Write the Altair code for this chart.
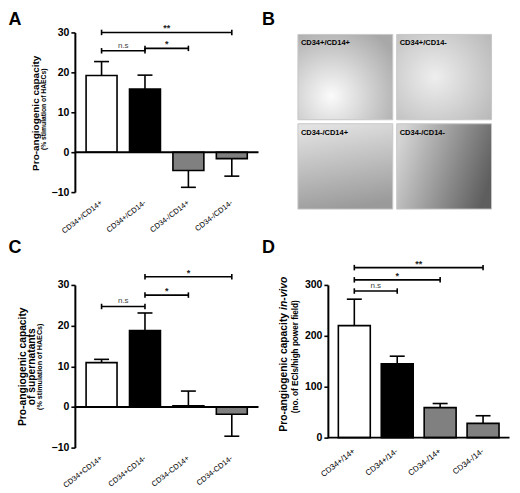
import altair as alt
import pandas as pd

FONT = "Liberation Sans"

# ---------------- Panel A ----------------
a_cats = ["CD34+/CD14+", "CD34+/CD14-", "CD34-/CD14+", "CD34-/CD14-"]
a_vals = [19.2, 15.8, -4.6, -1.6]
a_sem = [3.5, 3.5, 4.2, 4.4]
a_sig_from = ["CD34+/CD14+", "CD34+/CD14+", "CD34+/CD14-"]
a_sig_to = ["CD34-/CD14-", "CD34+/CD14-", "CD34-/CD14+"]
a_sig_y = [30, 25.4, 26]
a_sig_lbl = ["**", "n.s", "*"]
a_ticks = [-10, 0, 10, 20, 30]

# ---------------- Panel B ----------------
b_labels = ["CD34+/CD14+", "CD34+/CD14-", "CD34-/CD14+", "CD34-/CD14-"]
b_col = ["left", "right", "left", "right"]
b_row = ["top", "top", "bottom", "bottom"]

# ---------------- Panel C ----------------
c_cats = ["CD34+CD14+", "CD34+CD14-", "CD34-CD14+", "CD34-CD14-"]
c_vals = [10.9, 18.8, 0.3, -1.8]
c_sem = [0.8, 4.3, 3.6, 5.4]
c_sig_from = ["CD34+CD14+", "CD34+CD14-", "CD34+CD14-"]
c_sig_to = ["CD34+CD14-", "CD34-CD14+", "CD34-CD14-"]
c_sig_y = [24.7, 27.5, 32]
c_sig_lbl = ["n.s", "*", "*"]
c_ticks = [-10, 0, 10, 20, 30]

# ---------------- Panel D ----------------
d_cats = ["CD34+/14+", "CD34+/14-", "CD34-/14+", "CD34-/14-"]
d_vals = [220, 145, 59, 28]
d_sem = [52, 15, 8, 15]
d_sig_from = ["CD34+/14+", "CD34+/14+", "CD34+/14+"]
d_sig_to = ["CD34+/14-", "CD34-/14+", "CD34-/14-"]
d_sig_y = [288, 310, 334]
d_sig_lbl = ["n.s", "*", "**"]
d_ticks = [0, 100, 200, 300]


def text_layer(txt, x, y, size, weight="bold", angle=0, align="center",
               baseline="middle", style="normal", color="black"):
    return alt.Chart(pd.DataFrame({"t": [txt]})).mark_text(
        font=FONT, fontSize=size, fontWeight=weight, angle=angle, align=align,
        baseline=baseline, fontStyle=style, color=color
    ).encode(text="t:N", x=alt.value(x), y=alt.value(y))


def bar_panel(cats, vals, sem, sig_from, sig_to, sig_y, sig_lbl, ydom, yticks,
              fills, width, height, bar_w, label_size, label_gap, label_angle,
              extra_layers):
    n = len(cats)
    df = pd.DataFrame({"cat": cats, "i": list(range(n)), "v": vals, "sem": sem})
    sig = pd.DataFrame({
        "a": [cats.index(f) for f in sig_from],
        "b": [cats.index(t) for t in sig_to],
        "y": sig_y,
        "lbl": sig_lbl,
    })
    xs = alt.Scale(domain=[-0.5, n - 0.5], nice=False, zero=False)
    ys = alt.Scale(domain=ydom, nice=False, zero=False)
    yaxis = alt.Axis(values=yticks, title=None, grid=False, domainColor="black",
                     domainWidth=2, tickColor="black", tickWidth=1.6, tickSize=4,
                     labelFontSize=10.5, labelFontWeight="bold", labelFont=FONT,
                     labelColor="black", labelPadding=2, labelOverlap=False)

    def X(f):
        return alt.X(f, scale=xs, axis=None)

    def Y(f):
        return alt.Y(f, scale=ys, axis=yaxis)

    base = alt.Chart(df)
    bars = base.mark_bar(width=bar_w, stroke="black", strokeWidth=1.6,
                         orient="vertical").encode(
        x=X("i:Q"), y=Y("v:Q"), y2=alt.datum(0),
        fill=alt.Fill("cat:N", scale=alt.Scale(domain=cats, range=fills), legend=None),
    )
    # category labels, rising diagonally, ending under each bar
    xlab = alt.Chart(pd.DataFrame({"cat": cats, "i": list(range(n))})).mark_text(
        font=FONT, fontSize=label_size, angle=label_angle, align="right",
        baseline="middle", color="black").encode(
        x=X("i:Q"), y=alt.value(height + label_gap), text="cat:N")
    base_e = base.transform_calculate(
        end="datum.v >= 0 ? datum.v + datum.sem : datum.v - datum.sem")
    err = base_e.mark_rule(strokeWidth=1.6, color="black").encode(
        x=X("i:Q"), y=Y("v:Q"), y2="end:Q")
    cap = base_e.mark_point(shape="M-1,0L1,0", size=225, filled=False,
                            stroke="black", strokeWidth=1.6, opacity=1).encode(
        x=X("i:Q"), y=Y("end:Q"))
    zero = alt.Chart(pd.DataFrame({"z": [0]})).mark_rule(
        strokeWidth=2, color="black").encode(
        y=Y("z:Q"), x=alt.value(0), x2=alt.value(width))

    sbase = alt.Chart(sig)
    srule = sbase.mark_rule(strokeWidth=1.6, color="black").encode(
        x=X("a:Q"), x2="b:Q", y=Y("y:Q"))
    scap = sbase.transform_fold(["a", "b"], as_=["k", "xx"]).mark_point(
        shape="M0,-1L0,1", size=30, filled=False, stroke="black",
        strokeWidth=1.6, opacity=1).encode(x=X("xx:Q"), y=Y("y:Q"))
    smid = sbase.transform_calculate(mid="(datum.a + datum.b) / 2")
    stext_ns = smid.transform_filter(alt.datum.lbl == "n.s").mark_text(
        font=FONT, fontSize=8, baseline="alphabetic", dy=-3, color="#444444").encode(
        x=X("mid:Q"), y=Y("y:Q"), text="lbl:N")
    stext_st = smid.transform_filter(alt.datum.lbl != "n.s").mark_text(
        font=FONT, fontSize=9, fontWeight="bold", baseline="alphabetic", dy=-1,
        color="#222222").encode(x=X("mid:Q"), y=Y("y:Q"), text="lbl:N")

    layers = [bars, err, cap, zero, srule, scap, stext_ns, stext_st] + extra_layers + [xlab]
    return alt.layer(*layers).properties(width=width, height=height)


# ---- Panel A ----
WA, HA = 184, 160
A = bar_panel(
    a_cats, a_vals, a_sem, a_sig_from, a_sig_to, a_sig_y, a_sig_lbl,
    [-10, 30], a_ticks, ["white", "black", "#808080", "#808080"],
    WA, HA, 31, 7.5, 10, 322,
    [
        text_layer("A", -66.5, -21, 18, align="left", baseline="top"),
        text_layer("Pro-angiogenic capacity", -38.5, 81, 10, angle=270),
        text_layer("(% stimulation of HAECs)", -30.5, 77, 6.8, angle=270),
    ],
)

# ---- Panel C ----
WC, HC = 184, 163
C = bar_panel(
    c_cats, c_vals, c_sem, c_sig_from, c_sig_to, c_sig_y, c_sig_lbl,
    [-10, 30], c_ticks, ["white", "black", "#808080", "#808080"],
    WC, HC, 31, 7.5, 10, 322,
    [
        text_layer("C", -66.5, -46, 18, align="left", baseline="top"),
        text_layer("Pro-angiogenic capacity", -52, 82, 10.3, angle=270),
        text_layer("of supernatants", -43, 82, 10.3, angle=270),
        text_layer("(% stimulation of  HAECs)", -35, 82, 7.2, angle=270),
    ],
)

# ---- Panel D ----
WD, HD = 182, 153
D = bar_panel(
    d_cats, d_vals, d_sem, d_sig_from, d_sig_to, d_sig_y, d_sig_lbl,
    [0, 300], d_ticks, ["white", "black", "#6f6f6f", "#6f6f6f"],
    WD, HD, 32, 8, 13, 322,
    [
        text_layer("D", -66, -46, 18, align="left", baseline="top"),
        text_layer("Pro-angiogenic capacity", -44, 147, 10.3, angle=270,
                   align="left"),
        text_layer("in-vivo", -44, 25, 10.3, angle=270, align="left",
                   style="italic"),
        text_layer("(no. of ECls/high power field)", -32, 72, 8.2, angle=270),
    ],
)

# ---- Panel B ----
b_df = pd.DataFrame({"lbl": b_labels, "col": b_col, "row": b_row})
bx = alt.Scale(domain=["left", "right"], range=[-30, 164], paddingInner=0.04,
               paddingOuter=0)
by = alt.Scale(domain=["top", "bottom"], range=[2, 177], paddingInner=0.045,
               paddingOuter=0)


def grad_radial(c0, c1, cx, cy):
    return alt.Gradient(gradient="radial",
                        stops=[alt.GradientStop(color=c0, offset=0),
                               alt.GradientStop(color=c1, offset=1)],
                        x1=cx, y1=cy, r1=0, x2=cx, y2=cy, r2=0.8)


def grad_linear(c0, c1, x1, y1, x2, y2):
    return alt.Gradient(gradient="linear",
                        stops=[alt.GradientStop(color=c0, offset=0),
                               alt.GradientStop(color=c1, offset=1)],
                        x1=x1, y1=y1, x2=x2, y2=y2)


fills_b = [
    grad_radial("#fbfbfb", "#a8a8a8", 0.35, 0.7),
    grad_radial("#eeeeee", "#b4b4b4", 0.4, 0.5),
    grad_linear("#e2e2e2", "#9a9a9a", 0.3, 0, 0.5, 1),
    grad_linear("#d4d4d4", "#5e5e5e", 0, 0.3, 1, 0.6),
]
b_layers = []
for lbl, fl in zip(b_labels, fills_b):
    b_layers.append(
        alt.Chart(b_df).transform_filter(alt.datum.lbl == lbl).mark_rect(
            fill=fl, stroke="#c8c8c8", strokeWidth=1).encode(
            x=alt.X("col:N", scale=bx, axis=None),
            y=alt.Y("row:N", scale=by, axis=None)))
b_text = alt.Chart(b_df).mark_text(
    font=FONT, fontSize=7.5, fontWeight="bold", align="left", baseline="top",
    dx=3, dy=5, color="black").encode(
    x=alt.X("col:N", scale=bx, axis=None, bandPosition=0),
    y=alt.Y("row:N", scale=by, axis=None, bandPosition=0),
    text="lbl:N")
B = alt.layer(*b_layers, b_text,
              text_layer("B", -66, -21, 18, align="left", baseline="top")
              ).properties(width=184, height=178)

chart = alt.concat(
    A, B, C, D, columns=2, align="each", bounds="flush",
    spacing=alt.RowColnumber(row=75, column=69.5),
).properties(
    padding={"top": 3, "left": 0, "right": 0, "bottom": 0}
).configure(font=FONT).configure_view(stroke=None)

chart.save("out.html", embed_options={"renderer": "svg", "actions": False})
